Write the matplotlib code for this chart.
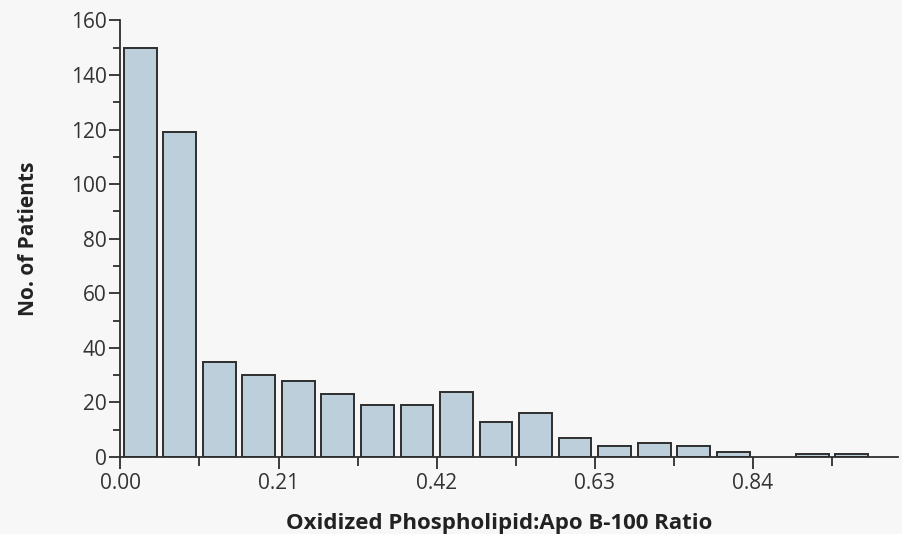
import numpy as np
import matplotlib
matplotlib.use("Agg")
import matplotlib.pyplot as plt
from matplotlib.ticker import MultipleLocator, FixedLocator, FixedFormatter

# ---- data ----
bin_width = 0.0525
counts = [150, 119, 35, 30, 28, 23, 19, 19, 24, 13, 16, 7, 4, 5, 4, 2, 0, 1, 1]
x_tick_values = [0.00, 0.21, 0.42, 0.63, 0.84]
x_tick_labels = ["0.00", "0.21", "0.42", "0.63", "0.84"]
y_tick_values = [0, 20, 40, 60, 80, 100, 120, 140, 160]
x_label = "Oxidized Phospholipid:Apo B-100 Ratio"
y_label = "No. of Patients"

plt.rcParams['font.family'] = ['Open Sans', 'DejaVu Sans']

bg = '#f7f7f7'
bar_face = '#bccfda'
edge = '#2e2e2e'
text_col = '#333333'

fig = plt.figure(figsize=(9.02, 5.34), dpi=100, facecolor=bg)
ax = fig.add_axes([0.1335, 1 - 457 / 534, (897.6 - 120.4) / 902, (457 - 20.5) / 534])
ax.set_facecolor(bg)

counts_arr = np.array(counts, dtype=float)
centers = (np.arange(len(counts)) + 0.5) * bin_width
mask = counts_arr > 0
ax.bar(centers[mask], counts_arr[mask], width=0.0435, color=bar_face,
       edgecolor=edge, linewidth=1.4, zorder=3)

ax.set_xlim(0, 1.032)
ax.set_ylim(0, 160)

for s in ['top', 'right']:
    ax.spines[s].set_visible(False)
for s in ['left', 'bottom']:
    ax.spines[s].set_color(edge)
    ax.spines[s].set_linewidth(1.3)
    ax.spines[s].set_zorder(4)

ax.xaxis.set_major_locator(FixedLocator(x_tick_values))
ax.xaxis.set_major_formatter(FixedFormatter(x_tick_labels))
ax.xaxis.set_minor_locator(MultipleLocator(0.105))
ax.yaxis.set_major_locator(FixedLocator(y_tick_values))
ax.yaxis.set_minor_locator(MultipleLocator(10))

ax.tick_params(axis='x', which='major', length=8.5, width=1.3, color=edge,
               labelsize=15, labelcolor=text_col, pad=3)
ax.tick_params(axis='x', which='minor', length=6.5, width=1.3, color=edge)
ax.tick_params(axis='y', which='major', length=8, width=1.3, color=edge,
               labelsize=15, labelcolor=text_col, pad=2)
ax.tick_params(axis='y', which='minor', length=5.3, width=1.3, color=edge)

ax.set_xlabel(x_label, fontsize=16, fontweight='bold', color='#222222')
ax.xaxis.set_label_coords(0.487, -0.128)
ax.set_ylabel(y_label, fontsize=15, fontweight='bold', color='#222222')
ax.yaxis.set_label_coords(-0.1048, 0.5)

fig.savefig("out.png", dpi=100, facecolor=bg)
